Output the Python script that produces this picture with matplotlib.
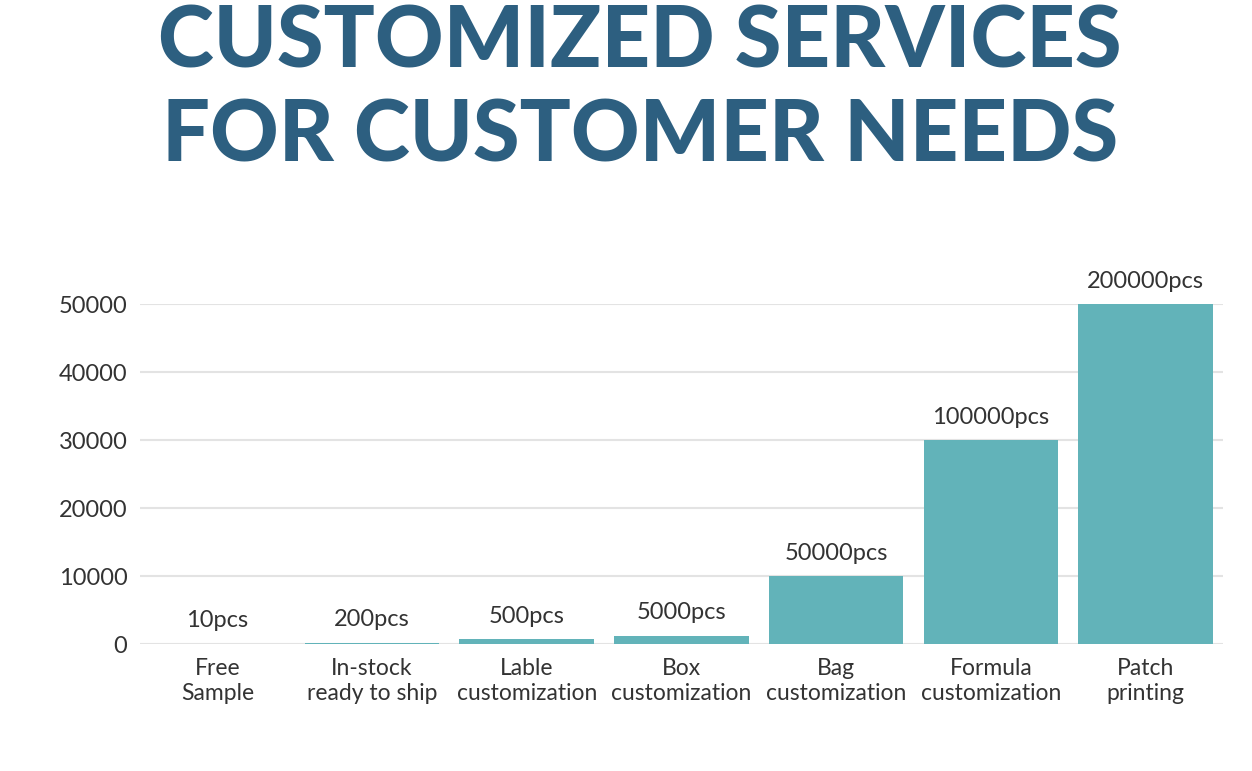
import matplotlib
matplotlib.use("Agg")
import matplotlib.pyplot as plt

categories = ["Free\nSample", "In-stock\nready to ship", "Lable\ncustomization",
              "Box\ncustomization", "Bag\ncustomization", "Formula\ncustomization",
              "Patch\nprinting"]
values = [10, 200, 700, 1200, 10000, 30000, 50000]
bar_labels = ["10pcs", "200pcs", "500pcs", "5000pcs", "50000pcs", "100000pcs", "200000pcs"]
yticks = [0, 10000, 20000, 30000, 40000, 50000]

title_color = "#2d5f80"
bar_color = "#62b3b9"
text_color = "#333333"
font = "Lato"

fig = plt.figure(figsize=(12.52, 7.71), dpi=100)
ax = fig.add_axes([0.1118, 0.1647, 0.8650, 0.4410])

x = list(range(len(categories)))
ax.bar(x, values, width=0.87, color=bar_color, zorder=3)
ax.set_xlim(-0.5, len(categories) - 0.5)
ax.set_ylim(0, 50000)
ax.set_yticks(yticks)
ax.set_yticklabels([str(v) for v in yticks], fontsize=17, family=font, color=text_color)
ax.set_xticks(x)
ax.set_xticklabels(categories, fontsize=16.5, family=font, color=text_color, linespacing=1.25)
ax.tick_params(axis="both", length=0)
ax.tick_params(axis="y", pad=9)
ax.tick_params(axis="x", pad=10)
ax.grid(axis="y", color="#e3e3e3", linewidth=1.5, zorder=0)
ax.set_axisbelow(True)
for s in ax.spines.values():
    s.set_visible(False)

for xi, v, lab in zip(x, values, bar_labels):
    ax.annotate(lab, (xi, v), xytext=(0, 9), textcoords="offset points",
                ha="center", va="bottom", fontsize=17, family=font,
                color=text_color, annotation_clip=False)

fig.text(0.511, 0.912, "CUSTOMIZED SERVICES", ha="center", va="baseline",
         fontsize=61, fontweight="black", family="Lato", color=title_color)
fig.text(0.511, 0.790, "FOR CUSTOMER NEEDS", ha="center", va="baseline",
         fontsize=61, fontweight="black", family="Lato", color=title_color)

fig.savefig("out.png", dpi=100, facecolor="white")
